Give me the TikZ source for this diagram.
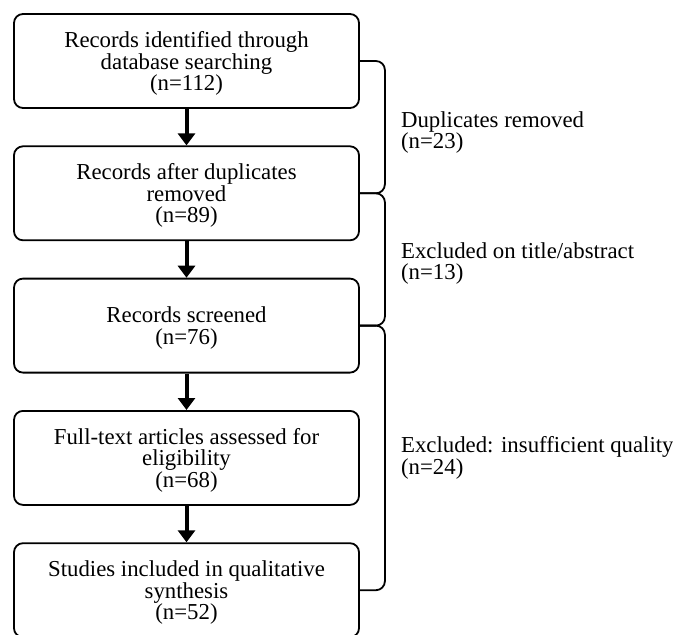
\documentclass[tikz,border=0pt]{standalone}
\usepackage{fontspec}
\setmainfont{Liberation Serif}
\usetikzlibrary{arrows.meta}
\usetikzlibrary{positioning}

\newcommand{\flowfont}{\fontsize{22.8pt}{21.5pt}\selectfont}
\tikzset{
  stage/.style={draw, line width=1.8pt, rounded corners=9pt,
    minimum width=345pt, minimum height=94pt, inner sep=0pt,
    align=center, text depth=-3pt, font=\flowfont},
  flow/.style={line width=4pt, -{Triangle[width=17pt,length=12pt]}},
  brace/.style={line width=1.8pt, rounded corners=9pt},
  note/.style={anchor=west, align=left, inner sep=0pt, font=\flowfont},
}

\begin{document}
\begin{tikzpicture}[node distance=36.5pt]
  \useasboundingbox (0,0) rectangle (673pt,-635pt);

  \node[stage] (ident) at (186.5pt,-61pt) {Records identified through\\database searching\\(n=112)};
  \node[stage, below=of ident] (dedup) {Records after duplicates\\removed\\(n=89)};
  \node[stage, below=of dedup] (screen) {Records screened\\(n=76)};
  \node[stage, below=of screen] (fulltext) {Full-text articles assessed for\\eligibility\\(n=68)};
  \node[stage, below=of fulltext] (incl) {Studies included in qualitative\\synthesis\\(n=52)};

  \draw[flow] (ident) -- (dedup);
  \draw[flow] (dedup) -- (screen);
  \draw[flow] (screen) -- (fulltext);
  \draw[flow] (fulltext) -- (incl);

  % brackets on the right, with the excluded counts
  \draw[brace] (ident.east) -- ++(25pt,0) |- (dedup.east);
  \draw[brace] (dedup.east) -- ++(25pt,0) |- (screen.east);
  \draw[brace] (screen.east) -- ++(25pt,0) |- (incl.east);

  \path (ident.east) -- (dedup.east) coordinate[midway] (dupmid);
  \path (dedup.east) -- (screen.east) coordinate[midway] (titlemid);
  \path (screen.east) -- (incl.east) coordinate[midway] (qualmid);

  \node[note] (dup) at ([xshift=41pt,yshift=-5.5pt]dupmid) {Duplicates removed\\(n=23)};
  \node[note] (title) at ([xshift=41pt,yshift=-4pt]titlemid) {Excluded on title/abstract\\(n=13)};
  \node[note] (qual) at ([xshift=41pt]qualmid) {Excluded: insufficient quality\\(n=24)};
\end{tikzpicture}
\end{document}
